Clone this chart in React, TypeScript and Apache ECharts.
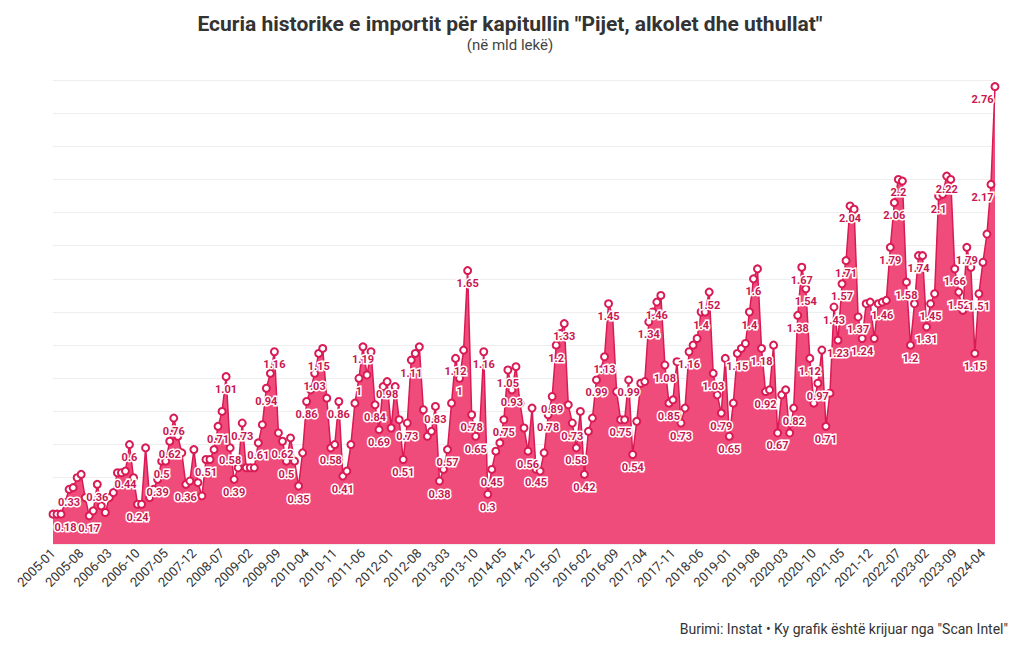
import React, { useEffect, useRef } from "react";
import * as echarts from "echarts";

const startYear = 2005;
const pointCount = 235;
const months: string[] = [];
for (let i = 0; i < pointCount; i++) {
  const y = startYear + Math.floor(i / 12);
  const m = (i % 12) + 1;
  months.push(`${y}-${m < 10 ? "0" + m : m}`);
}

const values2005_2009: number[] = [
  0.18, 0.18, 0.18, 0.25, 0.33, 0.34, 0.4, 0.42, 0.28, 0.17, 0.2, 0.36,
  0.23, 0.19, 0.28, 0.31, 0.43, 0.43, 0.44, 0.6, 0.4, 0.24, 0.24, 0.58,
  0.28, 0.33, 0.39, 0.5, 0.5, 0.62, 0.76, 0.65, 0.55, 0.36, 0.38, 0.57,
  0.37, 0.29, 0.51, 0.51, 0.57, 0.71, 0.8, 1.01, 0.58, 0.39, 0.46, 0.73,
  0.46, 0.46, 0.46, 0.61, 0.72, 0.94, 1.03, 1.16, 0.67, 0.62, 0.5, 0.64,
];
const values2010_2014: number[] = [
  0.5, 0.35, 0.55, 0.86, 0.93, 1.03, 1.15, 1.18, 0.88, 0.58, 0.6, 0.86,
  0.41, 0.44, 0.6, 0.85, 1.0, 1.19, 1.02, 1.16, 0.84, 0.69, 0.95, 0.98,
  0.7, 0.95, 0.75, 0.51, 0.73, 1.11, 1.15, 1.19, 0.81, 0.65, 0.68, 0.83,
  0.38, 0.45, 0.57, 0.85, 1.12, 1.0, 1.17, 1.65, 0.78, 0.65, 0.7, 1.16,
  0.3, 0.45, 0.56, 0.61, 0.75, 1.05, 0.93, 1.07, 0.85, 0.7, 0.56, 0.82,
];
const values2015_2019: number[] = [
  0.45, 0.44, 0.55, 0.78, 0.89, 1.2, 1.27, 1.33, 0.84, 0.73, 0.58, 0.8,
  0.42, 0.68, 0.76, 0.99, 1.05, 1.13, 1.45, 1.38, 0.92, 0.75, 0.75, 0.99,
  0.54, 0.74, 0.97, 0.98, 1.34, 1.4, 1.46, 1.5, 1.08, 0.85, 0.87, 1.1,
  0.73, 0.82, 1.16, 1.2, 1.24, 1.4, 1.4, 1.52, 1.03, 0.9, 0.79, 1.12,
  0.65, 0.85, 1.15, 1.18, 1.21, 1.4, 1.6, 1.66, 1.18, 0.92, 0.93, 1.2,
];
const values2020_2024: number[] = [
  0.67, 0.9, 0.93, 0.67, 0.82, 1.38, 1.67, 1.54, 1.12, 0.85, 0.97, 1.17,
  0.71, 0.91, 1.43, 1.23, 1.57, 1.71, 2.04, 2.02, 1.37, 1.24, 1.45, 1.46,
  1.24, 1.45, 1.46, 1.47, 1.79, 2.06, 2.2, 2.19, 1.58, 1.2, 1.45, 1.74,
  1.74, 1.31, 1.45, 1.51, 2.1, 2.11, 2.22, 2.2, 1.66, 1.52, 1.41, 1.79,
  1.67, 1.15, 1.51, 1.7, 1.87, 2.17, 2.76,
];
const values: number[] = [
  ...values2005_2009,
  ...values2010_2014,
  ...values2015_2019,
  ...values2020_2024,
];

// indices of the points whose value label is visible in the original
const labeledPoints: number[] = [
  0, 4, 9, 11, 18, 19, 21, 26, 27, 29, 30, 33, 38, 41, 43, 44, 45, 47, 51, 53,
  55, 57, 58, 61, 63, 65, 66, 69, 71, 72, 76, 77, 80, 81, 83, 87, 88, 89, 95,
  96, 98, 100, 101, 103, 104, 105, 107, 108, 109, 112, 113, 114, 118, 120, 123,
  124, 125, 127, 129, 130, 132, 135, 137, 138, 141, 143, 144, 148, 150, 152,
  153, 156, 158, 161, 163, 164, 166, 168, 170, 173, 174, 176, 177, 180, 184,
  185, 186, 187, 188, 190, 192, 194, 195, 196, 197, 198, 200, 201, 206, 208,
  209, 210, 212, 213, 215, 217, 218, 220, 222, 224, 225, 227, 229, 230, 233,
  234,
];

const titleText = 'Ecuria historike e importit për kapitullin "Pijet, alkolet dhe uthullat"';
const subtitleText = "(në mld lekë)";
const footerText = 'Burimi: Instat • Ky grafik është krijuar nga "Scan Intel"';

const GRID_LEFT = 53;
const GRID_RIGHT = 25;
const WIDTH = 1020;
const HEIGHT = 650;

export default function App() {
  const ref = useRef<HTMLDivElement>(null);
  useEffect(() => {
    document.body.style.margin = "0";
    if (!ref.current) return;
    const chart = echarts.init(ref.current, null, { renderer: "svg" });
    const labeledSet = new Set(labeledPoints);
    const seriesData = values.map((v, i) =>
      labeledSet.has(i) ? { value: v, label: { show: true } } : { value: v }
    );
    const minX = GRID_LEFT;
    const maxX = WIDTH - GRID_RIGHT;
    chart.setOption({
      animation: false,
      backgroundColor: "#ffffff",
      title: {
        text: titleText,
        subtext: subtitleText,
        left: "center",
        top: 8,
        itemGap: 3,
        textStyle: {
          fontFamily: "Roboto",
          fontWeight: "bold",
          fontSize: 21,
          color: "#333333",
        },
        subtextStyle: {
          fontFamily: "Roboto",
          fontSize: 15,
          color: "#444444",
        },
      },
      grid: {
        left: GRID_LEFT,
        right: GRID_RIGHT,
        top: 80,
        bottom: 106,
        containLabel: false,
      },
      xAxis: {
        type: "category",
        data: months,
        boundaryGap: false,
        axisLine: { show: false },
        axisTick: { show: false },
        axisLabel: {
          interval: 6,
          rotate: 45,
          fontSize: 13,
          color: "#333333",
          fontFamily: "Roboto",
          margin: 7,
        },
      },
      yAxis: {
        type: "value",
        min: 0,
        max: 2.8,
        interval: 0.2,
        axisLabel: { show: false },
        axisLine: { show: false },
        axisTick: { show: false },
        splitLine: { lineStyle: { color: "#eeeeee", width: 1 } },
      },
      series: [
        {
          type: "line",
          data: seriesData,
          showAllSymbol: true,
          symbol: "emptyCircle",
          symbolSize: 7,
          itemStyle: { color: "#d81b55", borderWidth: 1.5 },
          lineStyle: { color: "#d81b55", width: 1.5 },
          areaStyle: { color: "#f04c7b", opacity: 1 },
          label: {
            show: false,
            position: "bottom",
            distance: 3,
            color: "#c8174f",
            fontWeight: "bold",
            fontSize: 11,
            fontFamily: "Roboto",
            textBorderColor: "#ffffff",
            textBorderWidth: 3,
          },
          labelLayout: (params: any) => {
            const r = params.labelRect;
            if (!r) return {};
            if (r.x < minX) return { dx: minX - r.x };
            if (r.x + r.width > maxX) return { dx: maxX - (r.x + r.width) };
            return {};
          },
        },
      ],
      graphic: [
        {
          type: "text",
          right: 12,
          bottom: 14,
          style: {
            text: footerText,
            fontSize: 14,
            fontFamily: "Roboto",
            fill: "#333333",
          },
        },
      ],
    });
    return () => chart.dispose();
  }, []);
  return <div ref={ref} style={{ width: WIDTH, height: HEIGHT }} />;
}
